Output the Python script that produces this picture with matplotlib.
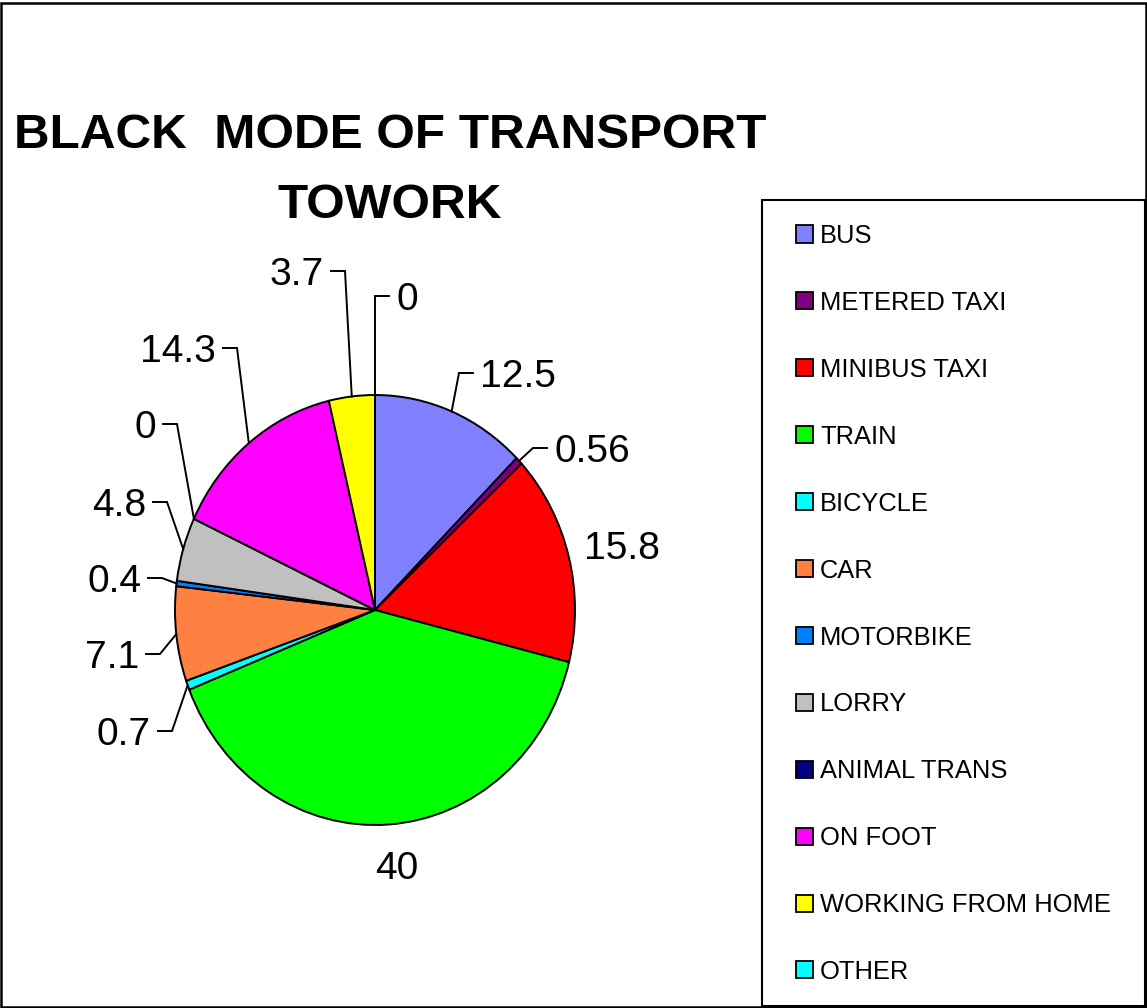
import matplotlib
matplotlib.use("Agg")
import matplotlib.pyplot as plt
from matplotlib import font_manager
from matplotlib.patches import Rectangle
import numpy as np

# ---- data ---------------------------------------------------------------
categories = ["BUS", "METERED TAXI", "MINIBUS TAXI", "TRAIN", "BICYCLE", "CAR",
              "MOTORBIKE", "LORRY", "ANIMAL TRANS", "ON FOOT",
              "WORKING FROM HOME", "OTHER"]
shares = [12.5, 0.56, 15.8, 40, 0.7, 7.1, 0.4, 4.8, 0, 14.3, 3.7, 0]
share_labels = ["12.5", "0.56", "15.8", "40", "0.7", "7.1", "0.4", "4.8",
                "0", "14.3", "3.7", "0"]
colors = ["#8080FF", "#800080", "#FF0000", "#00FF00", "#00FFFF", "#FF8040",
          "#0080FF", "#C0C0C0", "#000080", "#FF00FF", "#FFFF00", "#00FFFF"]
title_lines = ["BLACK  MODE OF TRANSPORT", "TOWORK"]

# ---- canvas (pixel based layout) -----------------------------------------
W, H, DPI = 1147, 1008, 100
CX, CY, RX, RY = 375, 610, 200, 215      # pie centre and radii in pixels


def has_font(name):
    try:
        font_manager.findfont(font_manager.FontProperties(family=name),
                              fallback_to_default=False)
        return True
    except ValueError:
        return False


narrow = has_font("Liberation Sans Narrow")
label_family = "Liberation Sans Narrow" if narrow else "Liberation Sans"
label_px = 43 if narrow else 39
legend_px = 29 if narrow else 25.5
title_px = 49.5
CAP = 0.716                               # cap height / em


def pt(px):
    return px * 72.0 / DPI


def fx(x):
    return x / W


def fy(y):
    return 1 - y / H


def dx(x):
    return (x - CX) / RX


def dy(y):
    return (CY - y) / RY


fig = plt.figure(figsize=(W / DPI, H / DPI), dpi=DPI)
fig.patch.set_facecolor("white")

ax = fig.add_axes([0, 0, 1, 1])
wedges, _ = ax.pie(shares, colors=colors, startangle=90, counterclock=False,
                   radius=1, center=(0, 0),
                   wedgeprops=dict(edgecolor="black", linewidth=1.4))
ax.set_aspect("auto")
ax.set_xlim(dx(0), dx(W))
ax.set_ylim(dy(H), dy(0))
ax.axis("off")

# value labels: text x, text centre y (pixels), alignment, leader line
label_layout = [
    (480, 373, "left", True),
    (554, 448, "left", True),
    (622, 545, "center", False),
    (397, 865, "center", False),
    (151, 731, "right", True),
    (139, 654, "right", True),
    (141, 578, "right", True),
    (146, 502, "right", True),
    (156, 424, "right", True),
    (216, 348, "right", True),
    (324, 271, "right", True),
    (396, 296, "left", True),
]
GAP, HLEN = 7, 14

for w, txt, (tx, ty, ha, lead) in zip(wedges, share_labels, label_layout):
    mid = np.deg2rad((w.theta1 + w.theta2) / 2.0)
    sx, sy = np.cos(mid), np.sin(mid)
    if lead:
        sign = 1 if ha == "left" else -1
        end_x = tx - sign * GAP
        elbow_x = end_x - sign * HLEN
        ax.plot([sx, dx(elbow_x), dx(end_x)], [sy, dy(ty), dy(ty)],
                color="black", lw=1.4, clip_on=False,
                solid_joinstyle="miter")
    ax.text(dx(tx), dy(ty + label_px * CAP / 2), txt, ha=ha, va="baseline",
            family=label_family, fontsize=pt(label_px), color="black")

# ---- title ---------------------------------------------------------------
for line, base in zip(title_lines, [148, 218]):
    fig.text(fx(390), fy(base), line, ha="center", va="baseline",
             family="Liberation Sans", fontweight="bold",
             fontsize=pt(title_px), color="black")

# ---- legend --------------------------------------------------------------
fig.add_artist(Rectangle((fx(762), fy(1006)), (1145 - 762) / W,
                         (1006 - 200) / H, transform=fig.transFigure,
                         facecolor="none", edgecolor="black", lw=1.5))
ROW0, ROW_STEP, SQ = 234, 66.9, 17
for i, (w, cat) in enumerate(zip(wedges, categories)):
    yc = ROW0 + i * ROW_STEP
    fig.add_artist(Rectangle((fx(796), fy(yc + SQ / 2)), SQ / W, SQ / H,
                             transform=fig.transFigure,
                             facecolor=w.get_facecolor(), edgecolor="black",
                             lw=1.3))
    fig.text(fx(820), fy(yc + legend_px * CAP / 2), cat, ha="left",
             va="baseline", family=label_family, fontsize=pt(legend_px),
             color="black")

# outer frame of the chart area
fig.add_artist(Rectangle((0.001, 0.001), 0.998, 0.996,
                         transform=fig.transFigure, facecolor="none",
                         edgecolor="black", lw=1.8))

fig.savefig("out.png", dpi=DPI, facecolor="white")
